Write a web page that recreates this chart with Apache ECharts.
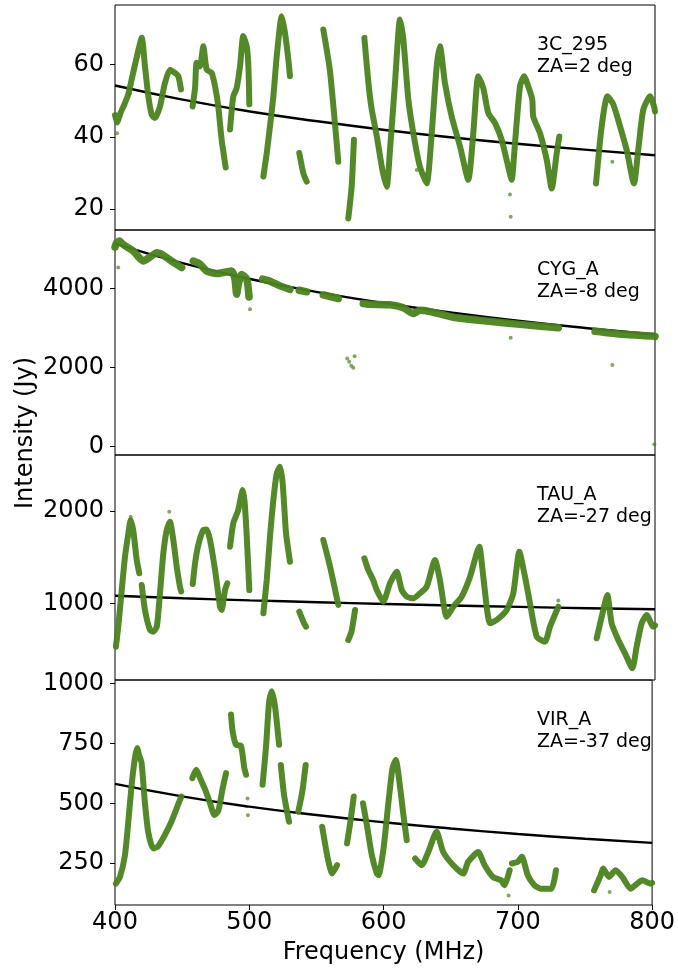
<!DOCTYPE html>
<html>
<head>
<meta charset="utf-8">
<script src="https://cdn.jsdelivr.net/npm/echarts@6/dist/echarts.min.js"></script>
<style>
  html, body { margin: 0; padding: 0; background: #fff; }
  #chart { width: 678px; height: 968px; }
</style>
</head>
<body>
<div id="chart"></div>
<script>
// ---- Frequency axis (MHz), shared by all four panels ----
const FREQ_TICKS = [400, 500, 600, 700, 800];

// ---- Source labels ----
const SOURCES = ['3C_295', 'CYG_A', 'TAU_A', 'VIR_A'];
const ZENITH = ['ZA=2 deg', 'ZA=-8 deg', 'ZA=-27 deg', 'ZA=-37 deg'];

// ---- Intensity tick labels (Jy) per panel ----
const TICKS_3C295 = [20, 40, 60];
const TICKS_CYGA = [0, 2000, 4000];
const TICKS_TAUA = [1000, 2000];
const TICKS_VIRA = [250, 500, 750, 1000];

// ---- Measured intensity, [MHz, Jy], split into contiguous runs ----
const MEAS_3C295 = [
  [[400,46],[401.5,44],[404,46.5],[407.4,49.4],[410,52],[412.3,55.8],[416,61.9],[419.8,67.4],[422.2,59.5],[424.7,51.2],[427.2,46.1],[429.6,45.2],[433.3,48.4],[437,54.9],[440.7,58.6],[444.4,57.7],[446.9,56.8],[448.9,53.1]],
  [[457.5,48.4],[459.3,53.5],[460.5,60.5],[463,59.5],[465.4,65.1],[467.9,58.6],[471.6,57.7],[474.1,54],[476.5,48.4],[479,39.2],[482,31.5]],
  [[485.2,42],[487.6,51.2],[490.1,53.5],[492.6,59.5],[495,67.9],[497.6,65],[498.8,59.5],[499.5,49]],
  [[509.9,29],[512.4,35.5],[514.8,42.9],[517.3,51.2],[519.8,62.3],[523.5,73.4],[525.9,68.8],[528.4,61.4],[529.6,56.8]],
  [[536.5,35.5],[539.5,29.9],[542,27.6]],
  [[554.3,69.7],[559.3,58],[565.4,33.1]],
  [[572.8,17.4],[575.3,26.2],[577,39.2]],
  [[584.7,67.4],[587.7,55],[590,48],[594,40],[598,31],[601.3,26.2],[603.7,36.4],[607.4,54.9],[611.1,72.5],[613.6,66.9],[617.3,50.3],[621,41],[625.9,31.7],[630.9,27.1],[634.6,41],[638.3,59.5],[640.7,65.1],[644.4,54.9],[649.4,45.6],[655.6,37.3],[661.7,28.1],[665.4,41],[669.1,56.8],[672.8,53.5],[676.5,46.6],[681.5,43.8],[686.4,39.2],[691.3,31.7],[693.8,28.1],[696.3,38.3],[700,54],[703,56.8],[706.1,54],[709.1,50.3],[709.8,45.6],[714.8,41],[719.8,33.6],[723.5,25.7],[727.2,35.5],[729.1,40.1]],
  [[756.3,27.1],[760.5,42.9],[764.7,51.2],[769.1,49],[774.1,42.9],[779,36.4],[784.4,27.1],[787.6,36.4],[791.3,47.5],[796.3,51.2],[799.3,48.4],[800,47]]
];
const STRAY_3C295 = [[401.5,41],[411,52],[623.5,30.8],[692.6,24],[693.1,17.9],[696,35],[768.4,33.1]];

const MEAS_CYGA = [
  [[400,5050],[401,5150],[403.2,5205],[406,5120],[409,5050],[413.6,4952],[417,4820],[421,4699],[426,4800],[430.9,4911],[434,4880],[438.3,4785],[444,4650],[449.4,4532]],
  [[458,4699],[463,4620],[467.9,4446],[475.3,4380],[482,4420],[486.4,4446],[488.9,4240],[490.1,3860],[491.3,4100],[493.8,4360],[497.6,4240],[499.3,3790]],
  [[509.4,4240],[514.8,4190],[522.2,4070],[529.6,3982]],
  [[536.5,3960],[542,3920]],
  [[554.3,3840],[565.4,3750]],
  [[583.9,3625],[588.9,3603],[603.7,3590],[613.6,3515],[621,3370],[625.9,3450],[633.3,3420],[650.6,3275],[675.3,3180],[700,3096],[728.4,3013]],
  [[755.6,2920],[776.5,2843],[798.7,2800],[800,2790]]
];
const STRAY_CYGA = [[402.4,4532],[500,3476],[572,2230],[573.5,2150],[575,2050],[576.5,2000],[577.5,2290],[693.1,2760],[768.4,2066],[799.5,60]];

const MEAS_TAUA = [
  [[400.7,530],[402.4,747],[405,1144],[407.4,1505],[409.9,1758],[411.6,1902],[413.6,1780],[416.1,1469],[418,1325]],
  [[419.8,1198],[422.2,927],[425.9,711],[428.4,692],[431,750],[433.3,1108],[435.8,1542],[438.3,1794],[440.7,1884],[443.2,1686],[445.7,1397],[448.1,1180],[449,1130]],
  [[457.6,1209],[459.3,1433],[461.7,1632],[465.4,1794],[467.9,1800],[470.4,1686],[474.1,1361],[477.8,963],[479,927],[481.5,1144],[483.2,1217]],
  [[485.2,1613],[487.6,1867],[491.3,2011],[494.6,2228],[496,2100],[497.6,1722],[499.5,1144]],
  [[509.9,892],[512.4,1252],[514.8,1722],[517.3,2119],[519.8,2408],[522.2,2480],[524.2,2300],[526.7,1758],[529.6,1451]],
  [[536.5,909],[539.5,801],[541.5,747]],
  [[554.3,1686],[559.3,1397],[565.4,982]],
  [[572.8,602],[575.3,700],[577.8,927]],
  [[584.7,1488],[587.6,1361],[591.3,1250],[593.9,1144],[598.7,1017],[603.7,1217],[608.7,1342],[612.4,1144],[616.1,1072],[621,1054],[625.9,1108],[630.9,1180],[637,1469],[640.7,1252],[645.7,855],[650.6,963],[656.8,1072],[663,1288],[667.9,1542],[669.9,1613],[672.8,1288],[677.8,783],[682.7,819],[690.1,927],[695,1108],[699.5,1559],[703.7,1288],[707.4,1000],[712.4,638],[718.5,584],[722.2,747],[728.4,963]],
  [[756.8,621],[761.7,927],[764.7,1090],[767.9,783],[772.8,602],[777.8,458],[783.2,296],[786.4,530],[790.1,783],[793.9,873],[798.7,747],[800,760]]
];
const STRAY_TAUA = [[411.6,1938],[440.2,1992],[577.8,935],[728.4,1030]];

const MEAS_VIRA = [
  [[400.7,165],[403.7,193],[407.4,283],[409.9,423],[412.4,577],[414.8,688],[416.5,730],[418,700],[419.8,668],[422.2,507],[424.7,381],[428.4,312],[432,320],[437,367],[442,423],[446.9,493],[449.4,528]],
  [[457.6,605],[460.5,640],[463,610],[466.7,563],[470.4,507],[474.1,451],[477,470],[480.2,563],[482.7,626]],
  [[486.4,870],[487.6,800],[490.1,744],[493.8,740],[496.3,647],[497.6,619]],
  [[509.9,577],[512.4,730],[514.8,926],[516.8,967],[519.3,898],[522.2,744]],
  [[523.5,660],[525.9,535],[529.6,423]],
  [[536.5,465],[539.5,549],[542,660]],
  [[554.3,402],[558,283],[561.7,207],[565.4,242]],
  [[572.8,333],[575.3,423],[577.8,528]],
  [[584.7,500],[587.6,409],[591.3,283],[595,207],[596.3,200],[600,312],[603.7,507],[606.7,647],[609.1,681],[612.4,563],[614.8,451],[617.3,346]],
  [[623.5,270],[628.4,242],[633.3,297],[639.5,381],[644.4,297],[651.9,242],[659.3,207],[663,256],[670.4,297],[675.3,242],[681.5,193],[687.6,179],[690.1,158],[693.9,221]],
  [[695.6,249],[700,256],[703,277],[707.4,200],[712.4,158],[717.3,144],[725,144],[728.4,221]],
  [[756.8,137],[761.7,200],[763.5,228],[767.9,193],[772.8,221],[777.8,193],[783.9,144],[788.9,165],[792.6,179],[798.7,165],[800,168]]
];
const STRAY_VIRA = [[498.7,520],[499,450],[693.1,116],[768.4,130]];

// ---- Catalogue flux model, [MHz, Jy] ----
const MODEL_3C295 = [[400,54.2],[450,50.3],[500,47.0],[550,44.3],[600,41.9],[650,39.8],[700,38.0],[750,36.4],[800,34.9]];
const MODEL_CYGA = [[400,5140],[450,4647],[500,4245],[550,3913],[600,3631],[650,3391],[700,3180],[750,2999],[800,2838]];
const MODEL_TAUA = [[400,1082],[450,1055],[500,1032],[550,1012],[600,993],[650,976],[700,961],[750,947],[800,935]];
const MODEL_VIRA = [[400,581],[450,529],[500,486],[550,451],[600,421],[650,395],[700,372],[750,352],[800,335]];

// ---- Panel layout and y ranges ----
const PANEL_TOPS = [5, 230, 455, 680];
const PANEL_H = 225;
const Y_RANGES = [[14.2, 76.5], [-210, 5484], [169, 2607], [76, 1014]];

const panels = [
  { meas: MEAS_3C295, stray: STRAY_3C295, model: MODEL_3C295, ticks: TICKS_3C295, width: 6 },
  { meas: MEAS_CYGA,  stray: STRAY_CYGA,  model: MODEL_CYGA,  ticks: TICKS_CYGA,  width: 7.5 },
  { meas: MEAS_TAUA,  stray: STRAY_TAUA,  model: MODEL_TAUA,  ticks: TICKS_TAUA,  width: 6 },
  { meas: MEAS_VIRA,  stray: STRAY_VIRA,  model: MODEL_VIRA,  ticks: TICKS_VIRA,  width: 6 }
];

const FONT = 'DejaVu Sans';
const GREEN = '#4a831c';
const plain = v => String(v);

const grids = [], xAxes = [], yAxes = [], series = [], graphics = [];

panels.forEach((p, i) => {
  const last = i === panels.length - 1;
  grids.push({
    left: 115, top: PANEL_TOPS[i], width: 540, height: PANEL_H,
    show: true, borderColor: '#000', borderWidth: 1, backgroundColor: 'transparent'
  });
  xAxes.push({
    gridIndex: i, type: 'value',
    min: FREQ_TICKS[0], max: FREQ_TICKS[FREQ_TICKS.length - 1], interval: 100,
    axisLine: { show: false },
    axisTick: { show: last, length: 5, lineStyle: { color: '#000', width: 1 } },
    axisLabel: { show: last, fontSize: 24, color: '#000', fontFamily: FONT, margin: 6, formatter: plain },
    splitLine: { show: false },
    name: last ? 'Frequency (MHz)' : '',
    nameLocation: 'middle', nameGap: 36,
    nameTextStyle: { fontSize: 24, color: '#000', fontFamily: FONT }
  });
  yAxes.push({
    gridIndex: i, type: 'value',
    min: Y_RANGES[i][0], max: Y_RANGES[i][1],
    axisLine: { show: false },
    axisTick: { show: true, length: 5, customValues: p.ticks, lineStyle: { color: '#000', width: 1 } },
    axisLabel: { customValues: p.ticks, fontSize: 24, color: '#000', fontFamily: FONT, margin: 11, formatter: plain },
    splitLine: { show: false }
  });

  // catalogue model curve
  series.push({
    type: 'line', xAxisIndex: i, yAxisIndex: i, data: p.model,
    symbol: 'none', smooth: true, silent: true, z: 2,
    lineStyle: { color: '#000', width: 2.4 }
  });
  // measured runs
  p.meas.forEach(run => {
    series.push({
      type: 'line', xAxisIndex: i, yAxisIndex: i, data: run,
      symbol: 'none', smooth: 0.2, silent: true, z: 3,
      lineStyle: { color: GREEN, width: p.width, cap: 'round', join: 'round', opacity: 0.95 }
    });
  });
  // isolated samples
  series.push({
    type: 'scatter', xAxisIndex: i, yAxisIndex: i, data: p.stray,
    symbolSize: 4, silent: true, z: 3,
    itemStyle: { color: GREEN, opacity: 0.7 }
  });

  graphics.push({
    type: 'text', left: 537, top: PANEL_TOPS[i] + 29,
    style: {
      text: SOURCES[i] + '\n' + ZENITH[i],
      font: '19px "DejaVu Sans"', fill: '#000', lineHeight: 22
    }
  });
});

graphics.push({
  type: 'text', x: 26, y: 433, rotation: Math.PI / 2,
  style: {
    text: 'Intensity (Jy)', font: '24px "DejaVu Sans"', fill: '#000',
    align: 'center', verticalAlign: 'middle'
  }
});

const chart = echarts.init(document.getElementById('chart'), null, { renderer: 'canvas' });
chart.setOption({
  animation: false,
  backgroundColor: '#fff',
  grid: grids, xAxis: xAxes, yAxis: yAxes, series: series, graphic: graphics
});
</script>
</body>
</html>
